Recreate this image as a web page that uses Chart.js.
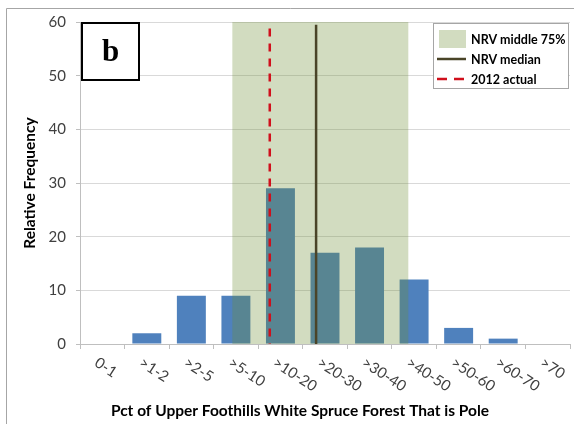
<!DOCTYPE html>
<html>
<head>
    <title>Pole frequency</title>
    <script src="https://cdn.jsdelivr.net/npm/chart.js"></script>
    <style>
        body { margin: 0; background: #fff; }
        .chart-container { width: 574px; height: 424px; position: relative; }
    </style>
</head>
<body>
    <div class="chart-container">
        <canvas id="poleChart"></canvas>
    </div>

    <script>
// categories and relative frequencies
var categories = ['0-1', '>1-2', '>2-5', '>5-10', '>10-20', '>20-30', '>30-40', '>40-50', '>50-60', '>60-70', '>70'];
var frequency = [0, 2, 9, 9, 29, 17, 18, 12, 3, 1, 0];
var yTicks = [0, 10, 20, 30, 40, 50, 60];

// markers, in category-index units along the x axis
var nrvBand = [2.92, 6.87];
var nrvMedian = 4.80;
var actual2012 = 3.76;

var panelLabel = 'b';
var legendLabels = ['NRV middle 75%', 'NRV median', '2012 actual'];
var xTitle = 'Pct of Upper Foothills White Spruce Forest That is Pole';
var yTitle = 'Relative Frequency';

var textFont = 'Lato, "Open Sans", sans-serif';

var overlayPlugin = {
    id: 'overlay',
    beforeDraw: function(chart) {
        var ctx = chart.ctx;
        ctx.save();
        ctx.strokeStyle = '#A6A6A6';
        ctx.lineWidth = 1;
        ctx.beginPath();
        ctx.moveTo(6.5, 424);
        ctx.lineTo(6.5, 8.5);
        ctx.lineTo(574, 8.5);
        ctx.stroke();
        ctx.restore();
    },
    afterDatasetsDraw: function(chart) {
        var ctx = chart.ctx;
        var x = chart.scales.x;
        var y = chart.scales.y;
        var area = chart.chartArea;
        ctx.save();

        // NRV middle 75% band
        var x0 = x.getPixelForValue(nrvBand[0]);
        var x1 = x.getPixelForValue(nrvBand[1]);
        ctx.fillStyle = 'rgba(110, 142, 52, 0.31)';
        ctx.fillRect(x0, area.top, x1 - x0, area.bottom - area.top);

        // median
        var xm = x.getPixelForValue(nrvMedian);
        ctx.strokeStyle = '#4A4428';
        ctx.lineWidth = 2.5;
        ctx.beginPath();
        ctx.moveTo(xm, y.getPixelForValue(59.5));
        ctx.lineTo(xm, area.bottom);
        ctx.stroke();

        // 2012 actual
        var xa = x.getPixelForValue(actual2012);
        ctx.strokeStyle = '#D0101C';
        ctx.lineWidth = 2.5;
        ctx.setLineDash([8, 7]);
        ctx.beginPath();
        ctx.moveTo(xa, y.getPixelForValue(58.8));
        ctx.lineTo(xa, area.bottom);
        ctx.stroke();
        ctx.setLineDash([]);

        ctx.restore();
    },
    afterDraw: function(chart) {
        var ctx = chart.ctx;
        var x = chart.scales.x;
        var area = chart.chartArea;
        ctx.save();

        // rotated category labels
        ctx.fillStyle = '#404040';
        ctx.font = '15px ' + textFont;
        ctx.textAlign = 'left';
        ctx.textBaseline = 'top';
        categories.forEach(function(label, i) {
            var cx = x.getPixelForValue(i);
            ctx.save();
            ctx.translate(cx - 2, area.bottom + 11);
            ctx.rotate(33 * Math.PI / 180);
            ctx.fillText(label, 0, 0);
            ctx.restore();
        });

        // axis titles
        ctx.fillStyle = '#000';
        ctx.font = 'bold 15.5px ' + textFont;
        ctx.textAlign = 'center';
        ctx.textBaseline = 'middle';
        ctx.fillText(xTitle, 300, 411);
        ctx.save();
        ctx.translate(30, (area.top + area.bottom) / 2);
        ctx.rotate(-Math.PI / 2);
        ctx.fillText(yTitle, 0, 0);
        ctx.restore();

        // panel label
        ctx.fillStyle = '#fff';
        ctx.fillRect(82, 23, 57, 57);
        ctx.strokeStyle = '#000';
        ctx.lineWidth = 2;
        ctx.strokeRect(82, 23, 57, 57);
        ctx.fillStyle = '#000';
        ctx.font = 'bold 31px "Liberation Serif", "DejaVu Serif", serif';
        ctx.textAlign = 'center';
        ctx.textBaseline = 'middle';
        ctx.fillText(panelLabel, 110.5, 53);

        // legend
        ctx.fillStyle = '#fff';
        ctx.fillRect(433, 23.5, 136, 65);
        ctx.strokeStyle = '#A6A6A6';
        ctx.lineWidth = 1;
        ctx.strokeRect(433.5, 23.5, 135, 65);

        ctx.fillStyle = 'rgb(210, 220, 192)';
        ctx.fillRect(439, 30, 27, 18);

        ctx.strokeStyle = '#4A4428';
        ctx.lineWidth = 2.5;
        ctx.beginPath();
        ctx.moveTo(437, 59);
        ctx.lineTo(466, 59);
        ctx.stroke();

        ctx.strokeStyle = '#D0101C';
        ctx.beginPath();
        ctx.moveTo(437, 79);
        ctx.lineTo(447, 79);
        ctx.moveTo(454, 79);
        ctx.lineTo(464, 79);
        ctx.stroke();

        ctx.fillStyle = '#000';
        ctx.font = 'bold 12.5px ' + textFont;
        ctx.textAlign = 'left';
        ctx.textBaseline = 'middle';
        ctx.fillText(legendLabels[0], 471, 39.5);
        ctx.fillText(legendLabels[1], 471, 59.5);
        ctx.fillText(legendLabels[2], 471, 79.5);

        ctx.restore();
    }
};

document.addEventListener('DOMContentLoaded', function() {
    var el = document.getElementById('poleChart');

    new Chart(el, {
        type: 'bar',
        data: {
            labels: categories,
            datasets: [{
                label: 'Relative Frequency',
                data: frequency,
                backgroundColor: '#4F81BD',
                borderWidth: 0,
                categoryPercentage: 1,
                barPercentage: 0.65
            }]
        },
        options: {
            responsive: true,
            maintainAspectRatio: false,
            animation: false,
            layout: { padding: { top: 22, right: 4, left: 0, bottom: 0 } },
            plugins: {
                legend: { display: false },
                tooltip: { enabled: false }
            },
            scales: {
                x: {
                    offset: true,
                    grid: {
                        offset: true,
                        drawOnChartArea: false,
                        drawTicks: true,
                        tickLength: 5,
                        color: '#BFBFBF'
                    },
                    border: { color: '#BFBFBF' },
                    ticks: { display: false },
                    afterFit: function(scale) { scale.height = 80; }
                },
                y: {
                    min: 0,
                    max: 60,
                    afterBuildTicks: function(scale) {
                        scale.ticks = yTicks.map(function(v) { return { value: v }; });
                    },
                    grid: {
                        color: '#D9D9D9',
                        tickLength: 4,
                        tickColor: '#BFBFBF'
                    },
                    border: { color: '#BFBFBF' },
                    ticks: {
                        padding: 10,
                        color: '#404040',
                        font: { family: textFont, size: 15 }
                    },
                    afterFit: function(scale) { scale.width = 80; }
                }
            }
        },
        plugins: [overlayPlugin]
    });
});
    </script>
</body>
</html>
